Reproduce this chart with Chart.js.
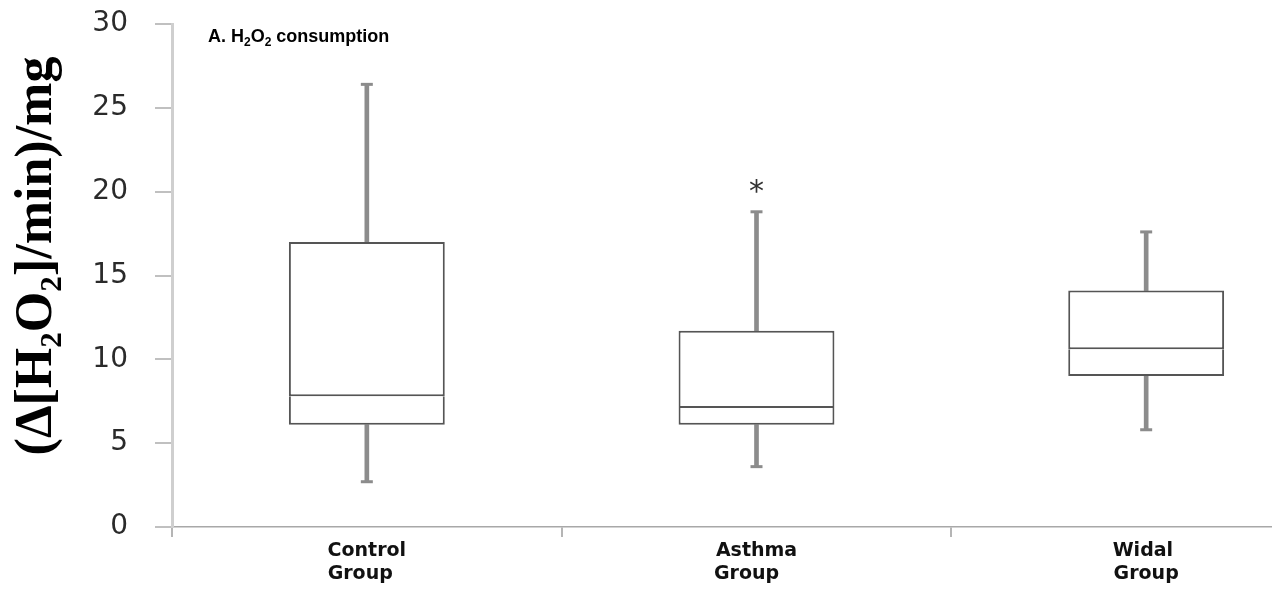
<!DOCTYPE html>
<html lang="en">
<head>
<meta charset="UTF-8">
<title>H2O2 consumption</title>
<script src="https://cdn.jsdelivr.net/npm/chart.js@4.4.1/dist/chart.umd.min.js"></script>
<style>
    html, body {
        margin: 0;
        padding: 0;
        background: #fff;
        overflow: hidden;
    }
    .chart-box {
        width: 1350px;
        height: 590px;
    }
</style>
</head>
<body>
<div class="chart-box"><canvas id="box_chart"></canvas></div>

<script>
    // groups (two-line labels, padded so both lines start together)
    const groups = [['Control', 'Group  '], ['Asthma', 'Group   '], ['Widal ', 'Group']];

    // box plot values
    const whiskerLow = [2.7, 3.6, 5.8];
    const quartile1 = [6.1, 6.1, 9.0];
    const medians = [7.8, 7.1, 10.6];
    const quartile3 = [17.0, 11.7, 14.1];
    const whiskerHigh = [26.4, 18.8, 17.6];

    // significance mark (*) position
    const starMarks = [null, 20.4, null];

    const yTicks = [0, 5, 10, 15, 20, 25, 30];

    const boxColor = '#555555';
    const whiskerColor = '#8c8c8c';

    function pairs(lo, hi) {
        return lo.map((v, i) => [v, hi[i]]);
    }

    // panel label + asterisk
    const annotations = {
        id: 'annotations',
        afterDatasetsDraw(chart) {
            const ctx = chart.ctx;
            const xs = chart.scales.x;
            const ys = chart.scales.y;
            ctx.save();

            const parts = [['A. H', false], ['2', true], ['O', false], ['2', true], [' consumption', false]];
            let px = chart.chartArea.left + 36;
            const base = chart.chartArea.top + 18;
            ctx.fillStyle = '#000';
            ctx.textBaseline = 'alphabetic';
            ctx.textAlign = 'left';
            parts.forEach(([t, sub]) => {
                ctx.font = sub ? 'bold 12px "Liberation Sans"' : 'bold 18px "Liberation Sans"';
                ctx.fillText(t, px, sub ? base + 4 : base);
                px += ctx.measureText(t).width;
            });

            ctx.font = '30px "DejaVu Sans"';
            ctx.textAlign = 'center';
            ctx.fillStyle = '#333';
            starMarks.forEach((v, i) => {
                if (v === null) return;
                ctx.fillText('*', xs.getPixelForValue(i), ys.getPixelForValue(v) + 16);
            });
            ctx.restore();
        }
    };

    const ctx = document.getElementById('box_chart').getContext('2d');

    new Chart(ctx, {
        type: 'bar',
        data: {
            labels: groups,
            datasets: [
                {
                    label: 'upper box',
                    data: pairs(medians, quartile3),
                    backgroundColor: '#fff',
                    borderColor: boxColor,
                    borderWidth: 2,
                    borderSkipped: false,
                    grouped: false,
                    barPercentage: 0.4,
                    categoryPercentage: 1
                },
                {
                    label: 'lower box',
                    data: pairs(quartile1, medians),
                    backgroundColor: '#fff',
                    borderColor: boxColor,
                    borderWidth: { left: 2, right: 2, bottom: 2, top: 0 },
                    borderSkipped: false,
                    grouped: false,
                    barPercentage: 0.4,
                    categoryPercentage: 1
                },
                {
                    label: 'upper whisker',
                    data: pairs(quartile3, whiskerHigh),
                    backgroundColor: whiskerColor,
                    borderWidth: 0,
                    grouped: false,
                    barThickness: 4
                },
                {
                    label: 'lower whisker',
                    data: pairs(whiskerLow, quartile1),
                    backgroundColor: whiskerColor,
                    borderWidth: 0,
                    grouped: false,
                    barThickness: 4
                },
                {
                    type: 'line',
                    label: 'max cap',
                    data: whiskerHigh,
                    showLine: false,
                    pointStyle: 'line',
                    pointRadius: 6,
                    borderWidth: 3,
                    borderColor: whiskerColor
                },
                {
                    type: 'line',
                    label: 'min cap',
                    data: whiskerLow,
                    showLine: false,
                    pointStyle: 'line',
                    pointRadius: 6,
                    borderWidth: 3,
                    borderColor: whiskerColor
                }
            ]
        },
        options: {
            responsive: true,
            maintainAspectRatio: false,
            animation: false,
            layout: {
                padding: { top: 24, right: 5, bottom: 0, left: 0 }
            },
            plugins: {
                legend: { display: false },
                tooltip: { enabled: false }
            },
            scales: {
                x: {
                    offset: true,
                    grid: {
                        offset: true,
                        drawOnChartArea: false,
                        tickLength: 10,
                        color: '#b5b5b5',
                        lineWidth: 2
                    },
                    border: { color: '#a8a8a8', width: 1.5 },
                    ticks: {
                        color: '#111',
                        padding: 3,
                        maxRotation: 0,
                        autoSkip: false,
                        font: { family: 'DejaVu Sans', size: 19, weight: 'bold', lineHeight: 1.2 }
                    },
                    afterFit(scale) {
                        scale.height = 63;
                    }
                },
                y: {
                    min: yTicks[0],
                    max: yTicks[yTicks.length - 1],
                    ticks: {
                        stepSize: yTicks[1] - yTicks[0],
                        color: '#2a2a2a',
                        padding: 27,
                        font: { family: 'DejaVu Sans', size: 28 }
                    },
                    grid: {
                        drawOnChartArea: false,
                        tickLength: 17,
                        color: '#c0c0c0',
                        lineWidth: 2
                    },
                    border: { color: '#cfcfcf', width: 3 },
                    title: {
                        display: true,
                        text: '   (Δ[H₂O₂]/min)/mg',
                        color: '#000',
                        padding: { top: 6, bottom: 0 },
                        font: { family: 'Liberation Serif', size: 52, weight: 'bold' }
                    },
                    afterFit(scale) {
                        scale.width = 172;
                        // tick padding should not push the plot area down
                        scale.paddingTop = 0;
                        scale.paddingBottom = 0;
                    }
                }
            }
        },
        plugins: [annotations]
    });
</script>
</body>
</html>
